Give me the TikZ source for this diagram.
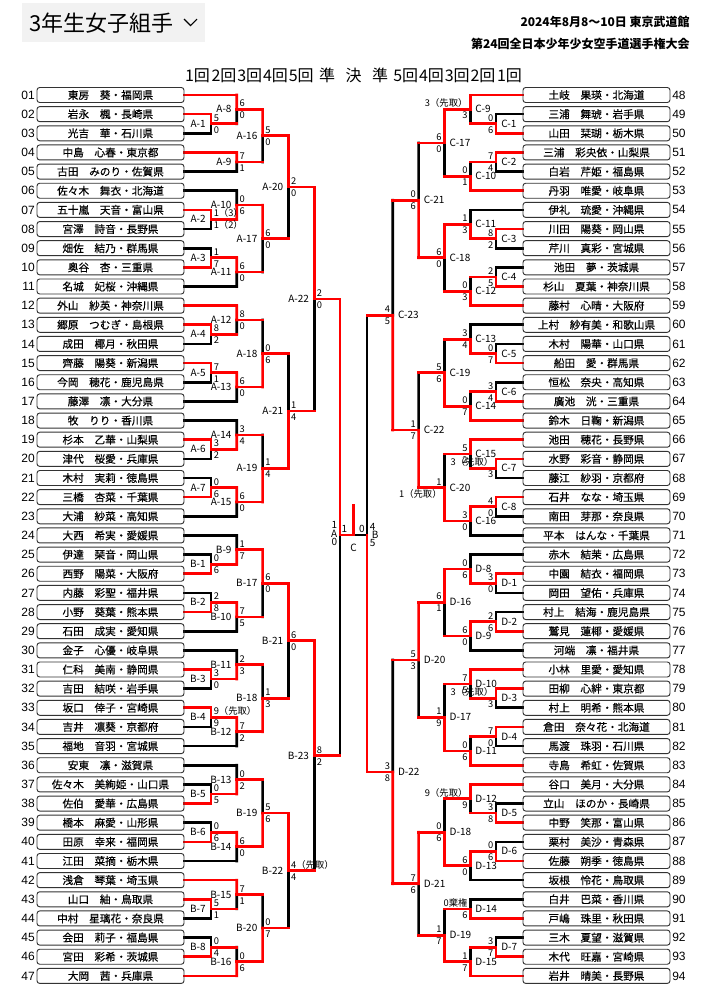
\documentclass[tikz,border=0pt]{standalone}
\usepackage{fontspec}
\setmainfont{Noto Sans CJK JP}
\newfontfamily\numf{Liberation Sans}
\newfontfamily\nmf[FakeBold=0.4]{Noto Sans CJK JP}
\usetikzlibrary{calc}
\pgfdeclarelayer{bg}
\pgfdeclarelayer{bl}
\pgfdeclarelayer{rl}
\pgfsetlayers{bg,bl,rl,main}
\tikzset{
 rl/.style={draw=red,line width=2pt,line cap=rect},
 bl/.style={draw=black,line width=2pt,line cap=rect},
 nb/.style={draw=black!80,line width=0.7pt,rounded corners=2pt,minimum width=110.25pt,minimum height=11.25pt,inner sep=0pt,font=\nmf\fontsize{8}{9}\selectfont},
 num/.style={inner sep=0pt,font=\numf\fontsize{9}{10}\selectfont},
 sc/.style={inner sep=0pt,font=\fontsize{7}{8}\selectfont},
 lb/.style={inner sep=0pt,font=\fontsize{7.5}{8}\selectfont},
 rh/.style={inner sep=0pt,font=\fontsize{12}{13}\selectfont},
 hd/.style={inner sep=0pt,font=\bfseries\fontsize{9}{10}\selectfont},
}
\newcommand\seg[3]{\begin{pgfonlayer}{#1}\draw[#1] (#2) -- (#3);\end{pgfonlayer}}
% left match: out, X, Xnext, top in, bottom in, winner t/b, top score, bottom score, label
\newcommand\ml[9]{%
 \coordinate (#1) at ($(#4 -| #2)!0.5!(#5 -| #2)$);
 \if#6t\seg{rl}{#4 -| #2}{#1}\seg{bl}{#5 -| #2}{#1}%
 \else\seg{bl}{#4 -| #2}{#1}\seg{rl}{#5 -| #2}{#1}\fi
 \seg{rl}{#1}{#1 -| #3}%
 \node[sc,anchor=base west] at ($(#1)+(2.5,-2.5)$) {#7};
 \node[sc,anchor=base west] at ($(#1)+(2.5,9.5)$) {#8};
 \node[lb,anchor=base east] at ($(#1)+(-5,3.5)$) {#9};
}
\newcommand\mr[9]{%
 \coordinate (#1) at ($(#4 -| #2)!0.5!(#5 -| #2)$);
 \if#6t\seg{rl}{#4 -| #2}{#1}\seg{bl}{#5 -| #2}{#1}%
 \else\seg{bl}{#4 -| #2}{#1}\seg{rl}{#5 -| #2}{#1}\fi
 \seg{rl}{#1}{#1 -| #3}%
 \node[sc,anchor=base east] at ($(#1)+(-2.5,-2.5)$) {#7};
 \node[sc,anchor=base east] at ($(#1)+(-2.5,9.5)$) {#8};
 \node[lb,anchor=base west] at ($(#1)+(5,3.5)$) {#9};
}
\begin{document}
\begin{tikzpicture}[x=0.75pt,y=-0.75pt]
\useasboundingbox (0,0) rectangle (707,1000);
\begin{pgfonlayer}{bg}
\fill[white] (0,0) rectangle (707,1000);
\fill[gray!10] (22,3) rectangle (205,42);
\end{pgfonlayer}
% header
\node[anchor=base west,inner sep=0pt,font=\fontsize{16.5}{18}\selectfont] (title) at (29,31) {3年生女子組手};
\draw[line width=0.8pt] (184,19) -- (190.5,25.5) -- (197,19);
\node[hd,anchor=base east] (date) at (690,26) {2024年8月8〜10日\ 東京武道館};
\node[hd,anchor=base east] (event) at (690,48) {第24回全日本少年少女空手道選手権大会};
\foreach \x/\t [count=\k] in {197.5/1回,224/2回,249.7/3回,275.5/4回,301.3/5回,327/準,353.5/決,380/準,405.7/5回,431.5/4回,457.3/3回,483/2回,509.5/1回}
  \node[rh,anchor=base] (rd\k) at (\x,81) {\t};
% levels
\coordinate (L1) at (211,0);\coordinate (L2) at (236.8,0);\coordinate (L3) at (262.6,0);
\coordinate (L4) at (288.4,0);\coordinate (L5) at (314.2,0);\coordinate (L6) at (340,0);
\coordinate (R1) at (496,0);\coordinate (R2) at (470.2,0);\coordinate (R3) at (444.4,0);
\coordinate (R4) at (418.6,0);\coordinate (R5) at (392.8,0);\coordinate (R6) at (367,0);
% left players
\foreach \nm/\lv/\cl [count=\i] in {東房　葵・福岡県/2/rl,岩永　楓・長崎県/1/rl,光吉　華・石川県/1/bl,中島　心春・東京都/2/rl,古田　みのり・佐賀県/2/bl,佐々木　舞衣・北海道/2/bl,五十嵐　天音・富山県/1/rl,宮澤　詩音・長野県/1/bl,畑佐　結乃・群馬県/1/bl,奥谷　杏・三重県/1/rl,名城　妃桜・沖縄県/2/bl,外山　紗英・神奈川県/2/rl,郷原　つむぎ・島根県/1/rl,成田　椰月・秋田県/1/bl,齊藤　陽葵・新潟県/1/rl,今岡　穂花・鹿児島県/1/bl,藤澤　凛・大分県/2/bl,牧　りり・香川県/2/bl,杉本　乙華・山梨県/1/rl,津代　桜愛・兵庫県/1/bl,木村　実莉・徳島県/1/bl,三橋　杏菜・千葉県/1/rl,大浦　紗菜・高知県/2/bl,大西　希実・愛媛県/2/bl,伊達　琹音・岡山県/1/bl,西野　陽菜・大阪府/1/rl,内藤　彩聖・福井県/1/bl,小野　葵葉・熊本県/1/rl,石田　成実・愛知県/2/bl,金子　心優・岐阜県/2/bl,仁科　美南・静岡県/1/rl,吉田　結咲・岩手県/1/bl,坂口　倖子・宮崎県/1/rl,吉井　凛葵・京都府/1/bl,福地　音羽・宮城県/2/bl,安東　凛・滋賀県/2/bl,佐々木　美絢姫・山口県/1/bl,佐伯　愛華・広島県/1/rl,橋本　麻愛・山形県/1/bl,田原　幸来・福岡県/1/rl,江田　菜摘・栃木県/2/bl,浅倉　琴葉・埼玉県/2/rl,山口　紬・鳥取県/1/rl,中村　星璃花・奈良県/1/bl,会田　莉子・福島県/1/bl,宮田　彩希・茨城県/1/rl,大岡　茜・兵庫県/2/rl}{
  \node[nb] (bL\i) at (110.5,{95+(\i-1)*19.15}) {\nm};
  \coordinate (pL\i) at (bL\i.east);
  \node[num,anchor=east] (nL\i) at (35,{95+(\i-1)*19.15}) {\ifnum\i<10 0\fi\i};
  \seg{\cl}{pL\i}{pL\i -| L\lv}
}
% right players
\foreach \nm/\lv/\cl [count=\i from 48] in {土岐　果瑛・北海道/2/rl,三浦　舞琥・岩手県/1/bl,山田　栞瑚・栃木県/1/rl,三浦　彩央依・山梨県/1/rl,白岩　芹姫・福島県/1/bl,丹羽　唯愛・岐阜県/2/rl,伊礼　琉愛・沖縄県/2/bl,川田　陽葵・岡山県/1/rl,芹川　真彩・宮城県/1/bl,池田　夢・茨城県/1/bl,杉山　夏葉・神奈川県/1/rl,藤村　心晴・大阪府/2/rl,上村　紗有美・和歌山県/2/bl,木村　陽華・山口県/1/bl,船田　愛・群馬県/1/rl,恒松　奈央・高知県/1/bl,廣池　洸・三重県/1/rl,鈴木　日鞠・新潟県/2/rl,池田　穂花・長野県/2/rl,水野　彩音・静岡県/1/rl,藤江　紗羽・京都府/1/bl,石井　なな・埼玉県/1/rl,南田　芽那・奈良県/1/bl,平本　はんな・千葉県/2/bl,赤木　結茉・広島県/2/bl,中園　結衣・福岡県/1/rl,岡田　望佑・兵庫県/1/bl,村上　結海・鹿児島県/1/bl,鷲見　蓮椰・愛媛県/1/rl,河端　凛・福井県/2/bl,小林　里愛・愛知県/2/rl,田柳　心絆・東京都/1/rl,村上　明希・熊本県/1/bl,倉田　奈々花・北海道/1/rl,馬渡　珠羽・石川県/1/bl,寺島　希虹・佐賀県/2/rl,谷口　美月・大分県/2/rl,立山　ほのか・長崎県/1/bl,中野　笑那・富山県/1/rl,栗村　美沙・青森県/1/bl,佐藤　朔季・徳島県/1/rl,坂根　怜花・鳥取県/2/bl,白井　巴菜・香川県/2/bl,戸嶋　珠里・秋田県/2/rl,三木　夏望・滋賀県/1/bl,木代　旺嘉・宮崎県/1/rl,岩井　晴美・長野県/2/rl}{
  \node[nb] (bR\i) at (596.5,{95+(\i-48)*19.15}) {\nm};
  \coordinate (pR\i) at (bR\i.west);
  \node[num,anchor=west] (nR\i) at (672,{95+(\i-48)*19.15}) {\i};
  \seg{\cl}{pR\i}{pR\i -| R\lv}
}
% block A
\ml{oA1}{L1}{L2}{pL2}{pL3}{t}{5}{0}{A-1}
\ml{oA2}{L1}{L2}{pL7}{pL8}{t}{1（3）}{1（2）}{A-2}
\ml{oA3}{L1}{L2}{pL9}{pL10}{b}{1}{7}{A-3}
\ml{oA4}{L1}{L2}{pL13}{pL14}{t}{8}{2}{A-4}
\ml{oA5}{L1}{L2}{pL15}{pL16}{t}{7}{1}{A-5}
\ml{oA6}{L1}{L2}{pL19}{pL20}{t}{3}{2}{A-6}
\ml{oA7}{L1}{L2}{pL21}{pL22}{b}{0}{6}{A-7}
\ml{oA8}{L2}{L3}{pL1}{oA1}{t}{6}{0}{A-8}
\ml{oA9}{L2}{L3}{pL4}{pL5}{t}{7}{1}{A-9}
\ml{oA10}{L2}{L3}{pL6}{oA2}{b}{0}{6}{A-10}
\ml{oA11}{L2}{L3}{oA3}{pL11}{t}{6}{0}{A-11}
\ml{oA12}{L2}{L3}{pL12}{oA4}{t}{8}{0}{A-12}
\ml{oA13}{L2}{L3}{oA5}{pL17}{t}{6}{0}{A-13}
\ml{oA14}{L2}{L3}{pL18}{oA6}{b}{3}{4}{A-14}
\ml{oA15}{L2}{L3}{oA7}{pL23}{t}{6}{0}{A-15}
\ml{oA16}{L3}{L4}{oA8}{oA9}{t}{5}{0}{A-16}
\ml{oA17}{L3}{L4}{oA10}{oA11}{t}{6}{0}{A-17}
\ml{oA18}{L3}{L4}{oA12}{oA13}{b}{0}{6}{A-18}
\ml{oA19}{L3}{L4}{oA14}{oA15}{b}{1}{4}{A-19}
\ml{oA20}{L4}{L5}{oA16}{oA17}{t}{2}{0}{A-20}
\ml{oA21}{L4}{L5}{oA18}{oA19}{b}{1}{4}{A-21}
\ml{oA22}{L5}{L6}{oA20}{oA21}{t}{2}{0}{A-22}
% block B
\ml{oB1}{L1}{L2}{pL25}{pL26}{b}{0}{6}{B-1}
\ml{oB2}{L1}{L2}{pL27}{pL28}{b}{2}{8}{B-2}
\ml{oB3}{L1}{L2}{pL31}{pL32}{t}{3}{0}{B-3}
\ml{oB4}{L1}{L2}{pL33}{pL34}{t}{9（先取）}{9}{B-4}
\ml{oB5}{L1}{L2}{pL37}{pL38}{b}{0}{5}{B-5}
\ml{oB6}{L1}{L2}{pL39}{pL40}{b}{0}{6}{B-6}
\ml{oB7}{L1}{L2}{pL43}{pL44}{t}{5}{1}{B-7}
\ml{oB8}{L1}{L2}{pL45}{pL46}{b}{0}{4}{B-8}
\ml{oB9}{L2}{L3}{pL24}{oB1}{b}{1}{7}{B-9}
\ml{oB10}{L2}{L3}{oB2}{pL29}{t}{7}{5}{B-10}
\ml{oB11}{L2}{L3}{pL30}{oB3}{b}{2}{3}{B-11}
\ml{oB12}{L2}{L3}{oB4}{pL35}{t}{7}{2}{B-12}
\ml{oB13}{L2}{L3}{pL36}{oB5}{b}{0}{2}{B-13}
\ml{oB14}{L2}{L3}{oB6}{pL41}{t}{6}{0}{B-14}
\ml{oB15}{L2}{L3}{pL42}{oB7}{t}{7}{1}{B-15}
\ml{oB16}{L2}{L3}{oB8}{pL47}{b}{0}{6}{B-16}
\ml{oB17}{L3}{L4}{oB9}{oB10}{t}{6}{0}{B-17}
\ml{oB18}{L3}{L4}{oB11}{oB12}{b}{1}{3}{B-18}
\ml{oB19}{L3}{L4}{oB13}{oB14}{b}{5}{6}{B-19}
\ml{oB20}{L3}{L4}{oB15}{oB16}{b}{0}{7}{B-20}
\ml{oB21}{L4}{L5}{oB17}{oB18}{t}{6}{0}{B-21}
\ml{oB22}{L4}{L5}{oB19}{oB20}{t}{4（先取）}{4}{B-22}
\ml{oB23}{L5}{L6}{oB21}{oB22}{t}{8}{2}{B-23}
% block C
\mr{oC1}{R1}{R2}{pR49}{pR50}{b}{0}{6}{C-1}
\mr{oC2}{R1}{R2}{pR51}{pR52}{t}{7}{4}{C-2}
\mr{oC3}{R1}{R2}{pR55}{pR56}{t}{8}{2}{C-3}
\mr{oC4}{R1}{R2}{pR57}{pR58}{b}{2}{5}{C-4}
\mr{oC5}{R1}{R2}{pR61}{pR62}{b}{0}{7}{C-5}
\mr{oC6}{R1}{R2}{pR63}{pR64}{b}{3}{4}{C-6}
\mr{oC7}{R1}{R2}{pR67}{pR68}{t}{3（先取）}{3}{C-7}
\mr{oC8}{R1}{R2}{pR69}{pR70}{t}{4}{0}{C-8}
\mr{oC9}{R2}{R3}{pR48}{oC1}{t}{3（先取）}{3}{C-9}
\mr{oC10}{R2}{R3}{oC2}{pR53}{b}{0}{1}{C-10}
\mr{oC11}{R2}{R3}{pR54}{oC3}{b}{1}{3}{C-11}
\mr{oC12}{R2}{R3}{oC4}{pR59}{b}{0}{3}{C-12}
\mr{oC13}{R2}{R3}{pR60}{oC5}{b}{3}{4}{C-13}
\mr{oC14}{R2}{R3}{oC6}{pR65}{b}{0}{7}{C-14}
\mr{oC15}{R2}{R3}{pR66}{oC7}{t}{5}{2}{C-15}
\mr{oC16}{R2}{R3}{oC8}{pR71}{t}{3}{0}{C-16}
\mr{oC17}{R3}{R4}{oC9}{oC10}{t}{6}{0}{C-17}
\mr{oC18}{R3}{R4}{oC11}{oC12}{t}{6}{0}{C-18}
\mr{oC19}{R3}{R4}{oC13}{oC14}{b}{5}{6}{C-19}
\mr{oC20}{R3}{R4}{oC15}{oC16}{b}{1}{1（先取）}{C-20}
\mr{oC21}{R4}{R5}{oC17}{oC18}{b}{0}{6}{C-21}
\mr{oC22}{R4}{R5}{oC19}{oC20}{b}{1}{7}{C-22}
\mr{oC23}{R5}{R6}{oC21}{oC22}{b}{4}{5}{C-23}
% block D
\mr{oD1}{R1}{R2}{pR73}{pR74}{t}{3}{0}{D-1}
\mr{oD2}{R1}{R2}{pR75}{pR76}{b}{2}{6}{D-2}
\mr{oD3}{R1}{R2}{pR79}{pR80}{t}{3（先取）}{3}{D-3}
\mr{oD4}{R1}{R2}{pR81}{pR82}{t}{7}{0}{D-4}
\mr{oD5}{R1}{R2}{pR85}{pR86}{b}{3}{8}{D-5}
\mr{oD6}{R1}{R2}{pR87}{pR88}{b}{0}{6}{D-6}
\mr{oD7}{R1}{R2}{pR92}{pR93}{b}{3}{7}{D-7}
\mr{oD8}{R2}{R3}{pR72}{oD1}{b}{0}{6}{D-8}
\mr{oD9}{R2}{R3}{oD2}{pR77}{t}{6}{0}{D-9}
\mr{oD10}{R2}{R3}{pR78}{oD3}{t}{7}{5}{D-10}
\mr{oD11}{R2}{R3}{oD4}{pR83}{b}{0}{6}{D-11}
\mr{oD12}{R2}{R3}{pR84}{oD5}{t}{9（先取）}{9}{D-12}
\mr{oD13}{R2}{R3}{oD6}{pR89}{t}{6}{0}{D-13}
\mr{oD14}{R2}{R3}{pR90}{pR91}{b}{0棄権}{6}{D-14}
\mr{oD15}{R2}{R3}{oD7}{pR94}{b}{1}{7}{D-15}
\mr{oD16}{R3}{R4}{oD8}{oD9}{t}{6}{1}{D-16}
\mr{oD17}{R3}{R4}{oD10}{oD11}{b}{1}{9}{D-17}
\mr{oD18}{R3}{R4}{oD12}{oD13}{b}{0}{6}{D-18}
\mr{oD19}{R3}{R4}{oD14}{oD15}{b}{1}{7}{D-19}
\mr{oD20}{R4}{R5}{oD16}{oD17}{t}{5}{3}{D-20}
\mr{oD21}{R4}{R5}{oD18}{oD19}{t}{7}{6}{D-21}
\mr{oD22}{R5}{R6}{oD20}{oD21}{b}{3}{8}{D-22}
% semifinals and final
\coordinate (sfL) at (340,535);\coordinate (sfR) at (367,535);
\coordinate (fin) at (353.5,535);\coordinate (champ) at (353.5,505);
\seg{rl}{oA22 -| L6}{sfL}
\seg{bl}{oB23 -| L6}{sfL}
\seg{bl}{oC23 -| R6}{sfR}
\seg{rl}{oD22 -| R6}{sfR}
\seg{bl}{sfR}{fin}
\seg{rl}{sfL}{fin}
\seg{rl}{fin}{champ}
\node[lb,anchor=base east] (sA1) at (337.5,528.5) {1};
\node[lb,anchor=base east] (sA) at (337.5,537) {A};
\node[lb,anchor=base east] (sA2) at (337.5,545.5) {0};
\node[lb,anchor=base] (f1) at (344.5,532) {1};
\node[lb,anchor=base] (f2) at (362,532) {0};
\node[lb,anchor=base] (fC) at (353.5,551) {C};
\node[lb,anchor=base west] (sB1) at (369.5,530.5) {4};
\node[lb,anchor=base west] (sB) at (371.5,538.5) {B};
\node[lb,anchor=base west] (sB2) at (369.5,546.5) {5};
\end{tikzpicture}
\end{document}
